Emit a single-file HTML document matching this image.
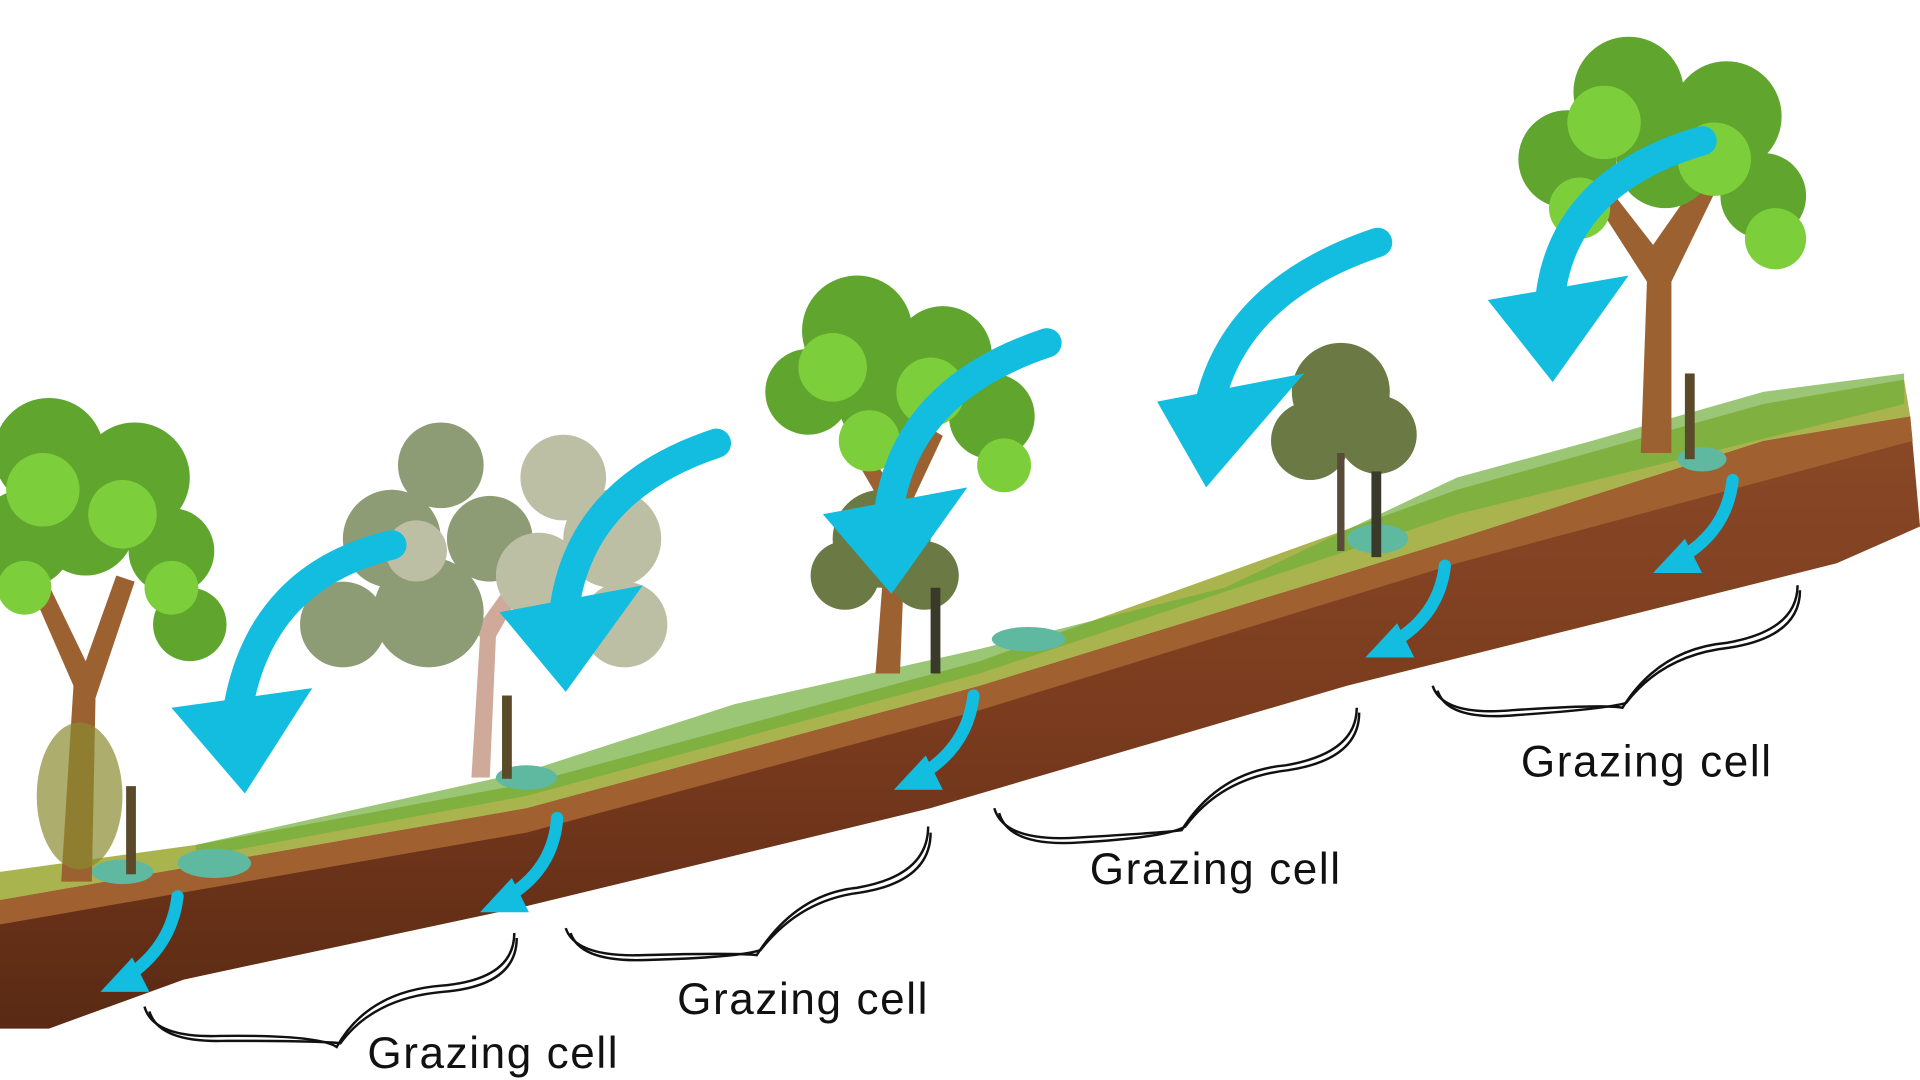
<!DOCTYPE html>
<html><head><meta charset="utf-8"><style>
html,body{margin:0;padding:0;background:#fff;width:1920px;height:1080px;overflow:hidden}
svg{display:block}
text{font-family:"Liberation Sans",sans-serif;font-size:36px;fill:#111;letter-spacing:1.3px}
</style></head><body>
<svg width="1920" height="1080" viewBox="0 0 1568 882" preserveAspectRatio="none" xmlns="http://www.w3.org/2000/svg">
<defs>
<linearGradient id="soil" x1="0" y1="0" x2="0" y2="1">
<stop offset="0" stop-color="#8a4a28"/><stop offset="0.5" stop-color="#7a3b1e"/><stop offset="1" stop-color="#5a2a14"/></linearGradient>
</defs>
<polygon points="0,735 430,660 800,560 1190,440 1440,360 1560,340 1568,430 1500,460 1100,560 760,660 430,740 150,800 40,840 0,840" fill="url(#soil)"/>
<polygon points="0,735 430,660 800,560 1190,440 1440,360 1560,340 1562,360 1190,460 800,580 430,680 0,755" fill="#a0602f"/>
<polygon points="0,735 0,712 160,690 430,640 800,540 1190,400 1440,330 1555,310 1560,340 1440,360 1190,440 800,560 430,660" fill="#a9b44e"/>
<polygon points="160,690 430,630 600,575 800,530 1000,480 1190,390 1300,360 1440,320 1555,305 1555,330 1190,420 800,550 430,650 160,700" fill="#6fae3a" opacity="0.7"/>
<ellipse cx="100" cy="712" rx="25" ry="10" fill="#5fb8a0"/>
<ellipse cx="175" cy="705" rx="30" ry="12" fill="#5fb8a0"/>
<ellipse cx="430" cy="635" rx="25" ry="10" fill="#5fb8a0"/>
<ellipse cx="840" cy="522" rx="30" ry="10" fill="#5fb8a0"/>
<ellipse cx="1125" cy="440" rx="25" ry="12" fill="#5fb8a0"/>
<ellipse cx="1390" cy="375" rx="20" ry="10" fill="#5fb8a0"/>
<path d="M50,720 L60,560 L25,480 L40,478 L70,540 L95,470 L110,475 L78,570 L75,720Z" fill="#9b6130"/>
<g fill="#5fa52e"><circle cx="40" cy="370" r="45"/><circle cx="110" cy="390" r="45"/><circle cx="20" cy="440" r="40"/><circle cx="140" cy="450" r="35"/><circle cx="155" cy="510" r="30"/><circle cx="70" cy="430" r="40"/></g>
<g fill="#7ccf3a"><circle cx="35" cy="400" r="30"/><circle cx="100" cy="420" r="28"/><circle cx="140" cy="480" r="22"/><circle cx="20" cy="480" r="22"/></g>
<ellipse cx="65" cy="650" rx="35" ry="60" fill="#8a8a30" opacity="0.7"/>
<rect x="103" y="642" width="8" height="72" fill="#5a4a2a"/>
<path d="M385,635 L392,520 L350,490 L360,484 L395,505 L420,470 L430,476 L405,520 L400,635Z" fill="#cfa999"/>
<g fill="#8e9c76"><circle cx="360" cy="380" r="35"/><circle cx="320" cy="440" r="40"/><circle cx="280" cy="510" r="35"/><circle cx="350" cy="500" r="45"/><circle cx="400" cy="440" r="35"/></g>
<g fill="#bdbfa5"><circle cx="460" cy="390" r="35"/><circle cx="500" cy="440" r="40"/><circle cx="510" cy="510" r="35"/><circle cx="440" cy="470" r="35"/><circle cx="340" cy="450" r="25"/></g>
<rect x="410" y="568" width="8" height="68" fill="#5a4a2a"/>
<path d="M715,550 L725,420 L690,360 L700,355 L730,400 L760,350 L770,356 L740,420 L735,550Z" fill="#9b6130"/>
<g fill="#5fa52e"><circle cx="700" cy="270" r="45"/><circle cx="770" cy="290" r="40"/><circle cx="660" cy="320" r="35"/><circle cx="810" cy="340" r="35"/><circle cx="720" cy="330" r="35"/></g>
<g fill="#7ccf3a"><circle cx="680" cy="300" r="28"/><circle cx="760" cy="320" r="28"/><circle cx="820" cy="380" r="22"/><circle cx="710" cy="360" r="25"/></g>
<g fill="#6b7a45"><circle cx="720" cy="440" r="40"/><circle cx="690" cy="470" r="28"/><circle cx="755" cy="470" r="28"/></g>
<rect x="760" y="480" width="8" height="70" fill="#3a3a2a"/>
<g fill="#6b7a45"><circle cx="1095" cy="320" r="40"/><circle cx="1070" cy="360" r="32"/><circle cx="1125" cy="355" r="32"/></g>
<rect x="1092" y="370" width="6" height="80" fill="#5a4a3a"/>
<rect x="1120" y="385" width="8" height="70" fill="#3a3a2a"/>
<path d="M1340,370 L1345,230 L1300,160 L1315,155 L1350,200 L1385,150 L1400,158 L1365,230 L1365,370Z" fill="#9b6130"/>
<g fill="#5fa52e"><circle cx="1330" cy="75" r="45"/><circle cx="1410" cy="95" r="45"/><circle cx="1280" cy="130" r="40"/><circle cx="1440" cy="160" r="35"/><circle cx="1360" cy="130" r="40"/></g>
<g fill="#7ccf3a"><circle cx="1310" cy="100" r="30"/><circle cx="1400" cy="130" r="30"/><circle cx="1450" cy="195" r="25"/><circle cx="1290" cy="170" r="25"/></g>
<rect x="1376" y="305" width="8" height="70" fill="#5a4a2a"/>
<g fill="none" stroke="#12bde0" stroke-linecap="round">
<path d="M320,445 Q215,470 195,575" stroke-width="24"/>
<path d="M585,362 Q470,400 460,505" stroke-width="24"/>
<path d="M855,280 Q735,320 725,425" stroke-width="24"/>
<path d="M1125,198 Q1000,240 985,345" stroke-width="24"/>
<path d="M1390,115 Q1270,150 1265,255" stroke-width="24"/>
<path d="M145,732 Q140,775 100,800" stroke-width="10"/>
<path d="M455,668 Q452,712 410,735" stroke-width="10"/>
<path d="M795,568 Q790,612 748,635" stroke-width="10"/>
<path d="M1180,462 Q1175,505 1133,527" stroke-width="10"/>
<path d="M1415,392 Q1410,436 1368,458" stroke-width="10"/>
</g>
<g fill="#12bde0">
<polygon points="140,578 255,562 200,648"/>
<polygon points="408,500 525,478 462,565"/>
<polygon points="672,420 790,398 728,485"/>
<polygon points="945,328 1065,305 985,398"/>
<polygon points="1215,245 1330,225 1268,312"/>
<polygon points="82,810 108,782 122,810"/>
<polygon points="392,745 418,717 432,745"/>
<polygon points="730,645 756,617 770,645"/>
<polygon points="1115,537 1141,509 1155,537"/>
<polygon points="1350,468 1376,440 1390,468"/>
</g>
<g fill="none" stroke="#111" stroke-width="2">
<path d="M118,822 Q125,848 180,846 Q260,845 275,855 Q300,810 360,805 Q420,800 420,762"/>
<path d="M122,826 Q130,852 185,850 Q262,850 278,852 Q305,815 362,810 Q422,805 422,766"/>
<path d="M462,758 Q470,782 525,780 Q600,778 618,780 Q650,730 700,725 Q758,715 758,675"/>
<path d="M466,762 Q474,786 528,784 Q602,782 621,776 Q653,735 702,729 Q760,720 760,680"/>
<path d="M812,660 Q820,688 880,684 Q950,680 965,678 Q995,630 1050,625 Q1108,615 1108,578"/>
<path d="M816,664 Q824,692 882,688 Q952,684 968,675 Q998,635 1052,629 Q1110,620 1110,582"/>
<path d="M1170,560 Q1178,585 1235,580 Q1310,575 1325,578 Q1355,530 1410,525 Q1468,515 1468,478"/>
<path d="M1174,564 Q1182,589 1238,584 Q1312,579 1328,574 Q1358,535 1412,529 Q1470,520 1470,482"/>
</g>
<text x="300" y="872">Grazing cell</text>
<text x="553" y="828">Grazing cell</text>
<text x="890" y="722">Grazing cell</text>
<text x="1242" y="634">Grazing cell</text>
</svg>
</body></html>
